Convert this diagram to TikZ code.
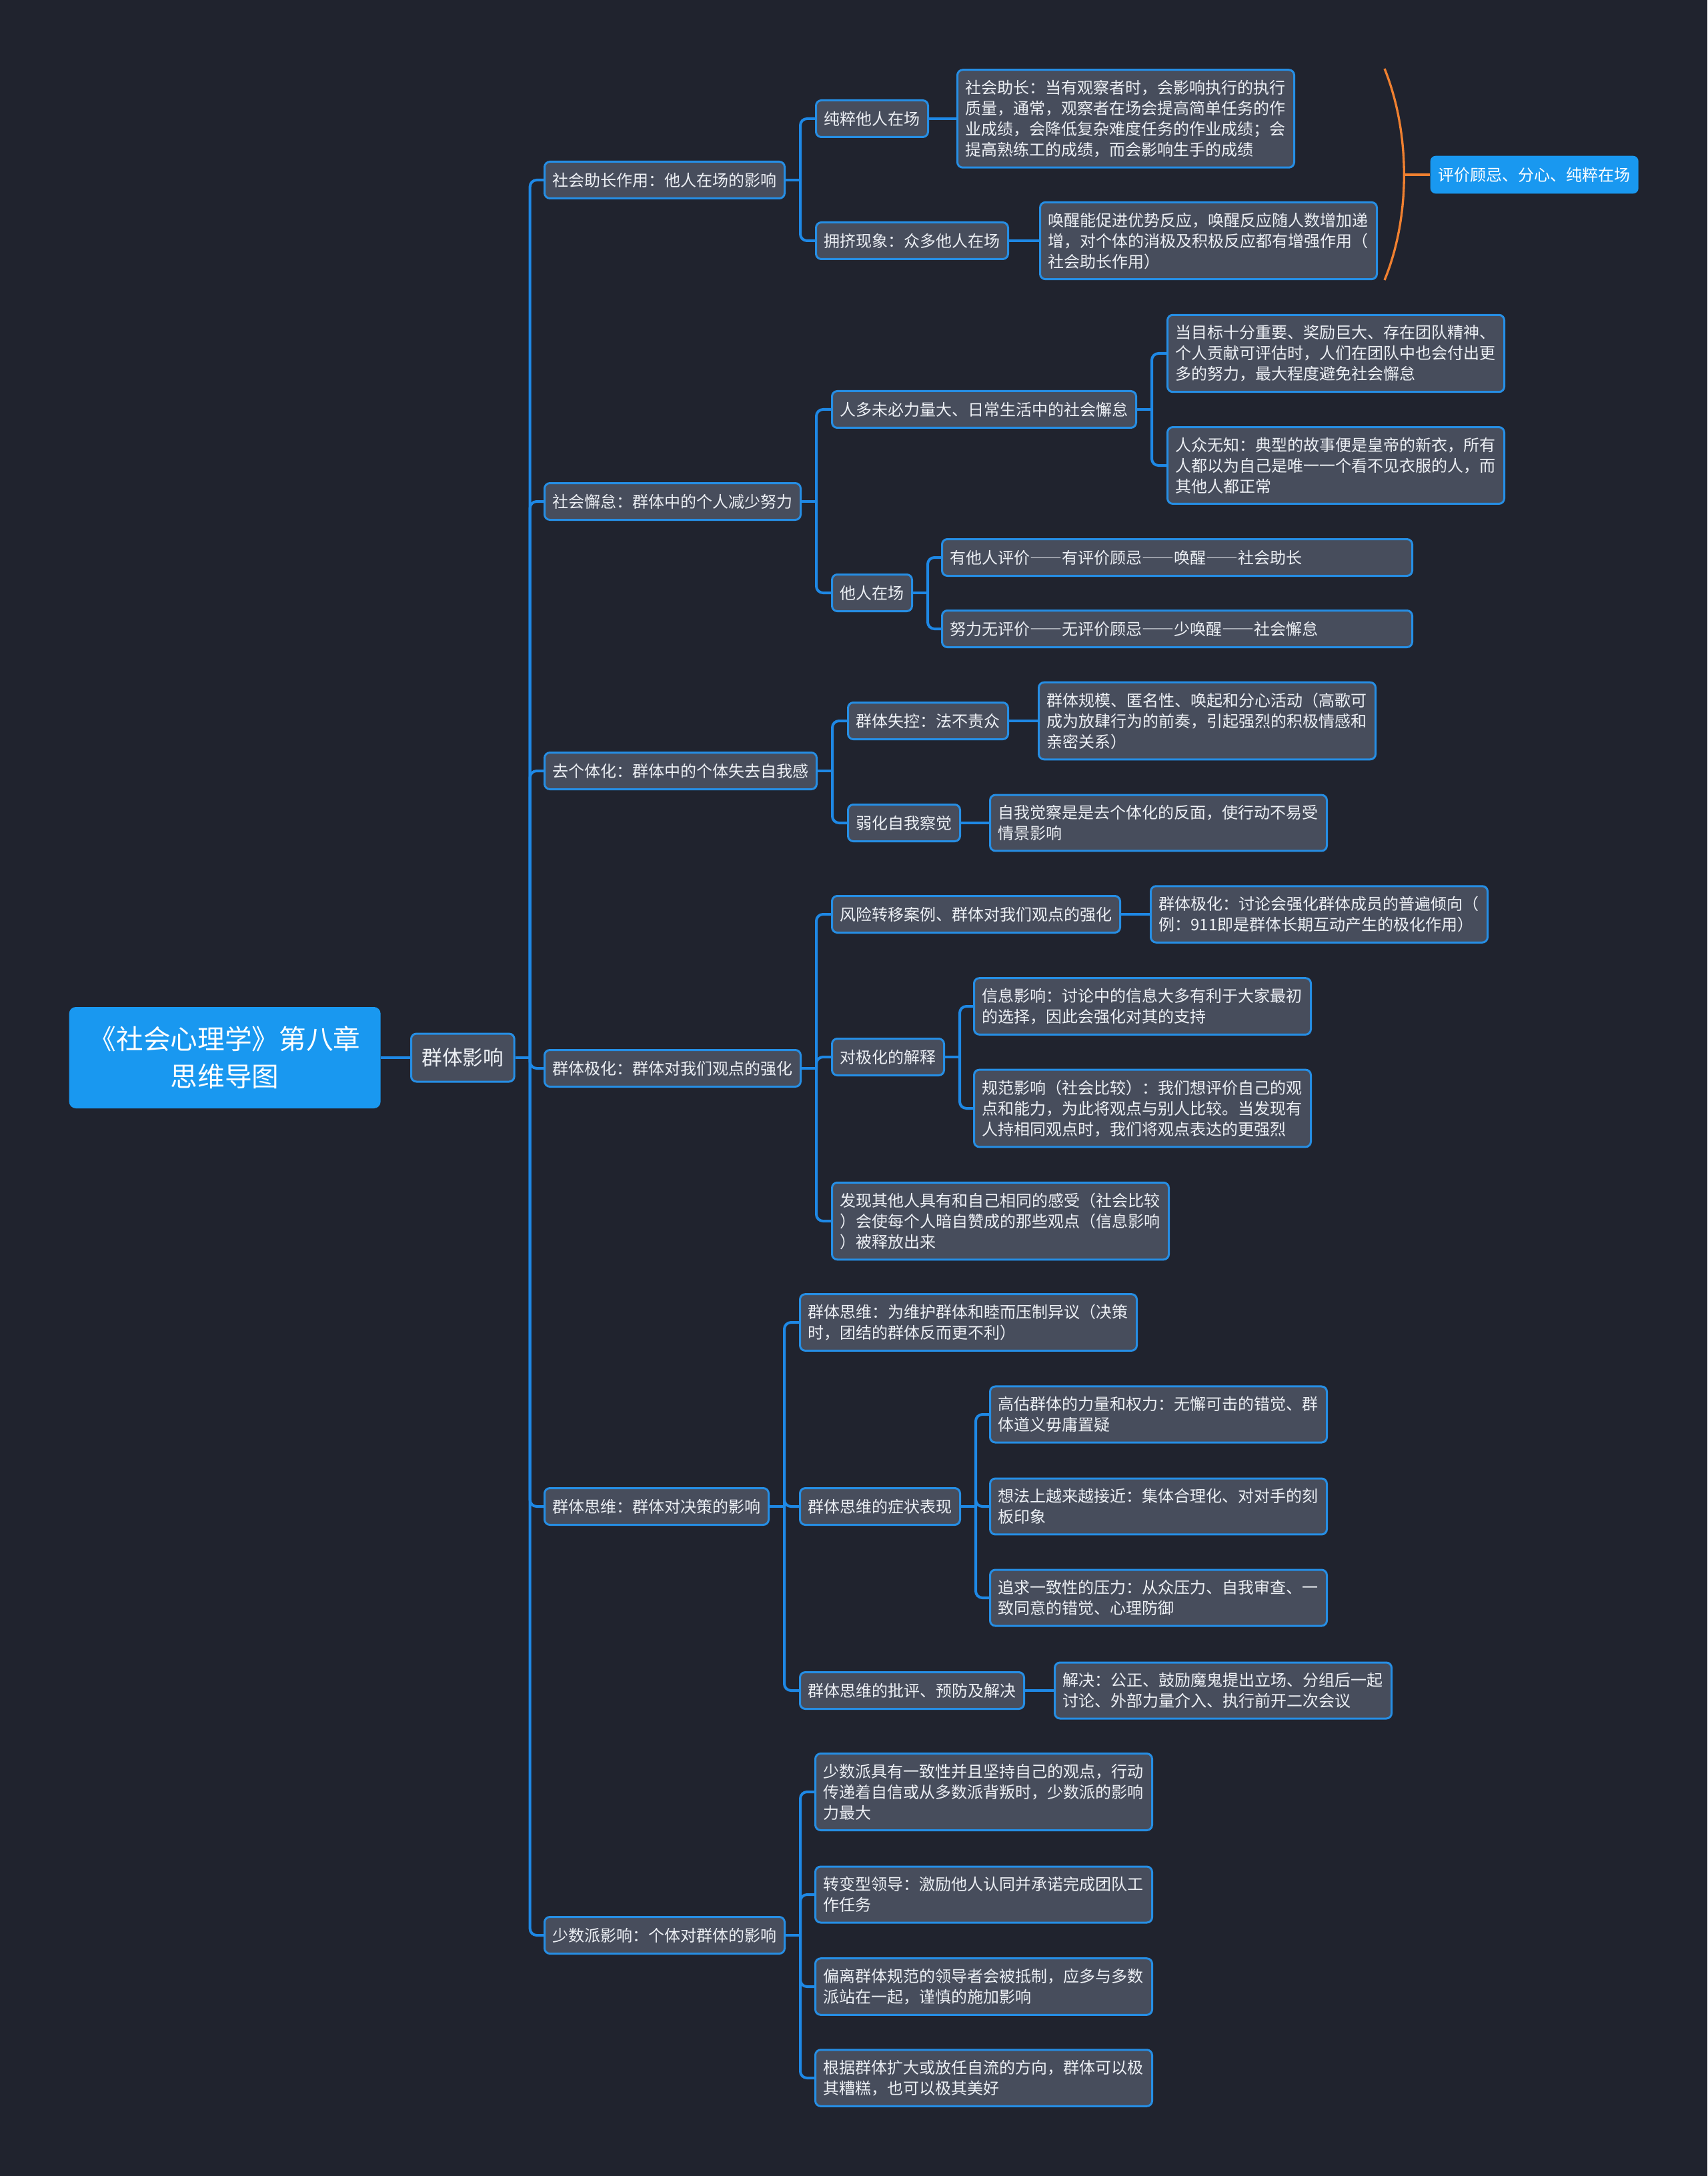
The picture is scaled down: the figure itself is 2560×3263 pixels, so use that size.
\documentclass[tikz,border=0pt]{standalone}
\usepackage{fontspec}
\newfontfamily\cjk{Noto Sans CJK SC}
\newfontfamily\cjkfull[CharacterWidth=Full]{Noto Sans CJK SC}
\newcommand{\longdash}{{\cjkfull ——}}
\usepackage{xcolor}
\usepackage{tikz}

\definecolor{bgdark}{RGB}{32,35,46}
\definecolor{boxgrey}{RGB}{71,77,92}
\definecolor{edgeblue}{RGB}{38,142,228}
\definecolor{linkblue}{RGB}{30,136,229}
\definecolor{rootblue}{RGB}{25,152,240}
\definecolor{braceorange}{RGB}{240,128,48}
\definecolor{txtwhite}{RGB}{236,239,244}

\begin{document}
\begin{tikzpicture}[
   x=0.3pt,y=-0.3pt,
   root/.style={fill=rootblue,rounded corners=3pt,text=white,align=center,
               font={\cjk\fontsize{12.2}{16.9}\selectfont},
               minimum width=140.1pt,minimum height=45.6pt,anchor=west},
   hub/.style={draw=edgeblue,fill=boxgrey,rounded corners=2.4pt,line width=0.9pt,
               text=txtwhite,font={\cjk\fontsize{9.2}{11}\selectfont},
               inner xsep=4.8pt,minimum height=21.6pt,anchor=west},
   topic/.style={draw=edgeblue,fill=boxgrey,rounded corners=2.4pt,line width=0.9pt,
               text=txtwhite,font={\cjk\fontsize{7.2}{9.3}\selectfont},
               inner xsep=3.6pt,inner ysep=4.6pt,minimum height=16.5pt,anchor=west},
   note/.style={topic,text width=144.3pt,align=left},
   wide/.style={topic,text width=204.3pt,align=left},
   tag/.style={fill=rootblue,rounded corners=2.4pt,text=white,
               font={\cjk\fontsize{7.2}{9.3}\selectfont},
               inner xsep=3.6pt,minimum height=17pt,anchor=west},
   link/.style={draw=linkblue,line width=1.2pt,rounded corners=3pt},
   brace/.style={draw=braceorange,line width=1pt}
  ]
  \fill[bgdark] (0,0) rectangle (2560,3263);

  \node[root] (top) at (103,1586) {《社会心理学》第八章\\思维导图};
  \node[hub]  (g)   at (615,1586) {群体影响};

  % first level
  \node[topic] (a) at (815,270)  {社会助长作用：他人在场的影响};
  \node[topic] (b) at (815,752)  {社会懈怠：群体中的个人减少努力};
  \node[topic] (c) at (815,1156) {去个体化：群体中的个体失去自我感};
  \node[topic] (d) at (815,1602) {群体极化：群体对我们观点的强化};
  \node[topic] (e) at (815,2259) {群体思维：群体对决策的影响};
  \node[topic] (f) at (815,2902) {少数派影响：个体对群体的影响};

  % social facilitation
  \node[topic] (a1)  at (1222,178) {纯粹他人在场};
  \node[note]  (a1n) at (1434,178) {社会助长：当有观察者时，会影响执行的执行\\质量，通常，观察者在场会提高简单任务的作\\业成绩，会降低复杂难度任务的作业成绩；会\\提高熟练工的成绩，而会影响生手的成绩};
  \node[topic] (a2)  at (1222,361) {拥挤现象：众多他人在场};
  \node[note]  (a2n) at (1558,361) {唤醒能促进优势反应，唤醒反应随人数增加递\\增，对个体的消极及积极反应都有增强作用（\\社会助长作用）};
  \node[tag]   (s)   at (2144,262) {评价顾忌、分心、纯粹在场};

  % social loafing
  \node[topic] (b1)  at (1246,614) {人多未必力量大、日常生活中的社会懈怠};
  \node[note]  (b1a) at (1749,530) {当目标十分重要、奖励巨大、存在团队精神、\\个人贡献可评估时，人们在团队中也会付出更\\多的努力，最大程度避免社会懈怠};
  \node[note]  (b1b) at (1749,698) {人众无知：典型的故事便是皇帝的新衣，所有\\人都以为自己是唯一一个看不见衣服的人，而\\其他人都正常};
  \node[topic] (b2)  at (1246,889) {他人在场};
  \node[wide]  (b2a) at (1411,836) {有他人评价\longdash 有评价顾忌\longdash 唤醒\longdash 社会助长};
  \node[wide]  (b2b) at (1411,943) {努力无评价\longdash 无评价顾忌\longdash 少唤醒\longdash 社会懈怠};

  % deindividuation
  \node[topic] (c1)  at (1270,1081) {群体失控：法不责众};
  \node[note]  (c1n) at (1556,1081) {群体规模、匿名性、唤起和分心活动（高歌可\\成为放肆行为的前奏，引起强烈的积极情感和\\亲密关系）};
  \node[topic] (c2)  at (1270,1234) {弱化自我察觉};
  \node[note]  (c2n) at (1483,1234) {自我觉察是是去个体化的反面，使行动不易受\\情景影响};

  % polarization
  \node[topic] (d1)  at (1246,1371) {风险转移案例、群体对我们观点的强化};
  \node[note]  (d1n) at (1724,1371) {群体极化：讨论会强化群体成员的普遍倾向（\\例：911即是群体长期互动产生的极化作用）};
  \node[topic] (d2)  at (1246,1585) {对极化的解释};
  \node[note]  (d2a) at (1459,1509) {信息影响：讨论中的信息大多有利于大家最初\\的选择，因此会强化对其的支持};
  \node[note]  (d2b) at (1459,1662) {规范影响（社会比较）：我们想评价自己的观\\点和能力，为此将观点与别人比较。当发现有\\人持相同观点时，我们将观点表达的更强烈};
  \node[note]  (d3)  at (1246,1831) {发现其他人具有和自己相同的感受（社会比较\\）会使每个人暗自赞成的那些观点（信息影响\\）被释放出来};

  % groupthink
  \node[note]  (e1)  at (1198,1983) {群体思维：为维护群体和睦而压制异议（决策\\时，团结的群体反而更不利）};
  \node[topic] (e2)  at (1198,2259) {群体思维的症状表现};
  \node[note]  (e2a) at (1483,2121) {高估群体的力量和权力：无懈可击的错觉、群\\体道义毋庸置疑};
  \node[note]  (e2b) at (1483,2259) {想法上越来越接近：集体合理化、对对手的刻\\板印象};
  \node[note]  (e2c) at (1483,2396) {追求一致性的压力：从众压力、自我审查、一\\致同意的错觉、心理防御};
  \node[topic] (e3)  at (1198,2535) {群体思维的批评、预防及解决};
  \node[note]  (e3n) at (1580,2535) {解决：公正、鼓励魔鬼提出立场、分组后一起\\讨论、外部力量介入、执行前开二次会议};

  % minority influence
  \node[note] (f1) at (1221,2687) {少数派具有一致性并且坚持自己的观点，行动\\传递着自信或从多数派背叛时，少数派的影响\\力最大};
  \node[note] (f2) at (1221,2841) {转变型领导：激励他人认同并承诺完成团队工\\作任务};
  \node[note] (f3) at (1221,2979) {偏离群体规范的领导者会被抵制，应多与多数\\派站在一起，谨慎的施加影响};
  \node[note] (f4) at (1221,3116) {根据群体扩大或放任自流的方向，群体可以极\\其糟糕，也可以极其美好};

  % straight links
  \foreach \p/\c in {top/g,a1/a1n,a2/a2n,c1/c1n,c2/c2n,d1/d1n,e3/e3n}
    \draw[link] (\p.east) -- (\c.west);

  % forks
  \foreach \p/\c in {g/a,g/b,g/c,g/d,g/e,g/f,a/a1,a/a2,b/b1,b/b2,b1/b1a,b1/b1b,
                     b2/b2a,b2/b2b,c/c1,c/c2,d/d1,d/d2,d/d3,d2/d2a,d2/d2b,
                     e/e1,e/e2,e/e3,e2/e2a,e2/e2b,e2/e2c,f/f1,f/f2,f/f3,f/f4}{
    \draw[link] (\p.east) -- ++(22,0);
    \draw[link] (\p.east) ++(22,0) |- (\c.west);
  }

  % summary bracket
  \coordinate (bend) at (2105,262);
  \draw[brace] (2076,103) .. controls (2115,200) and (2115,325) .. (2076,420);
  \draw[brace] (bend) -- (s.west);
\end{tikzpicture}
\end{document}
